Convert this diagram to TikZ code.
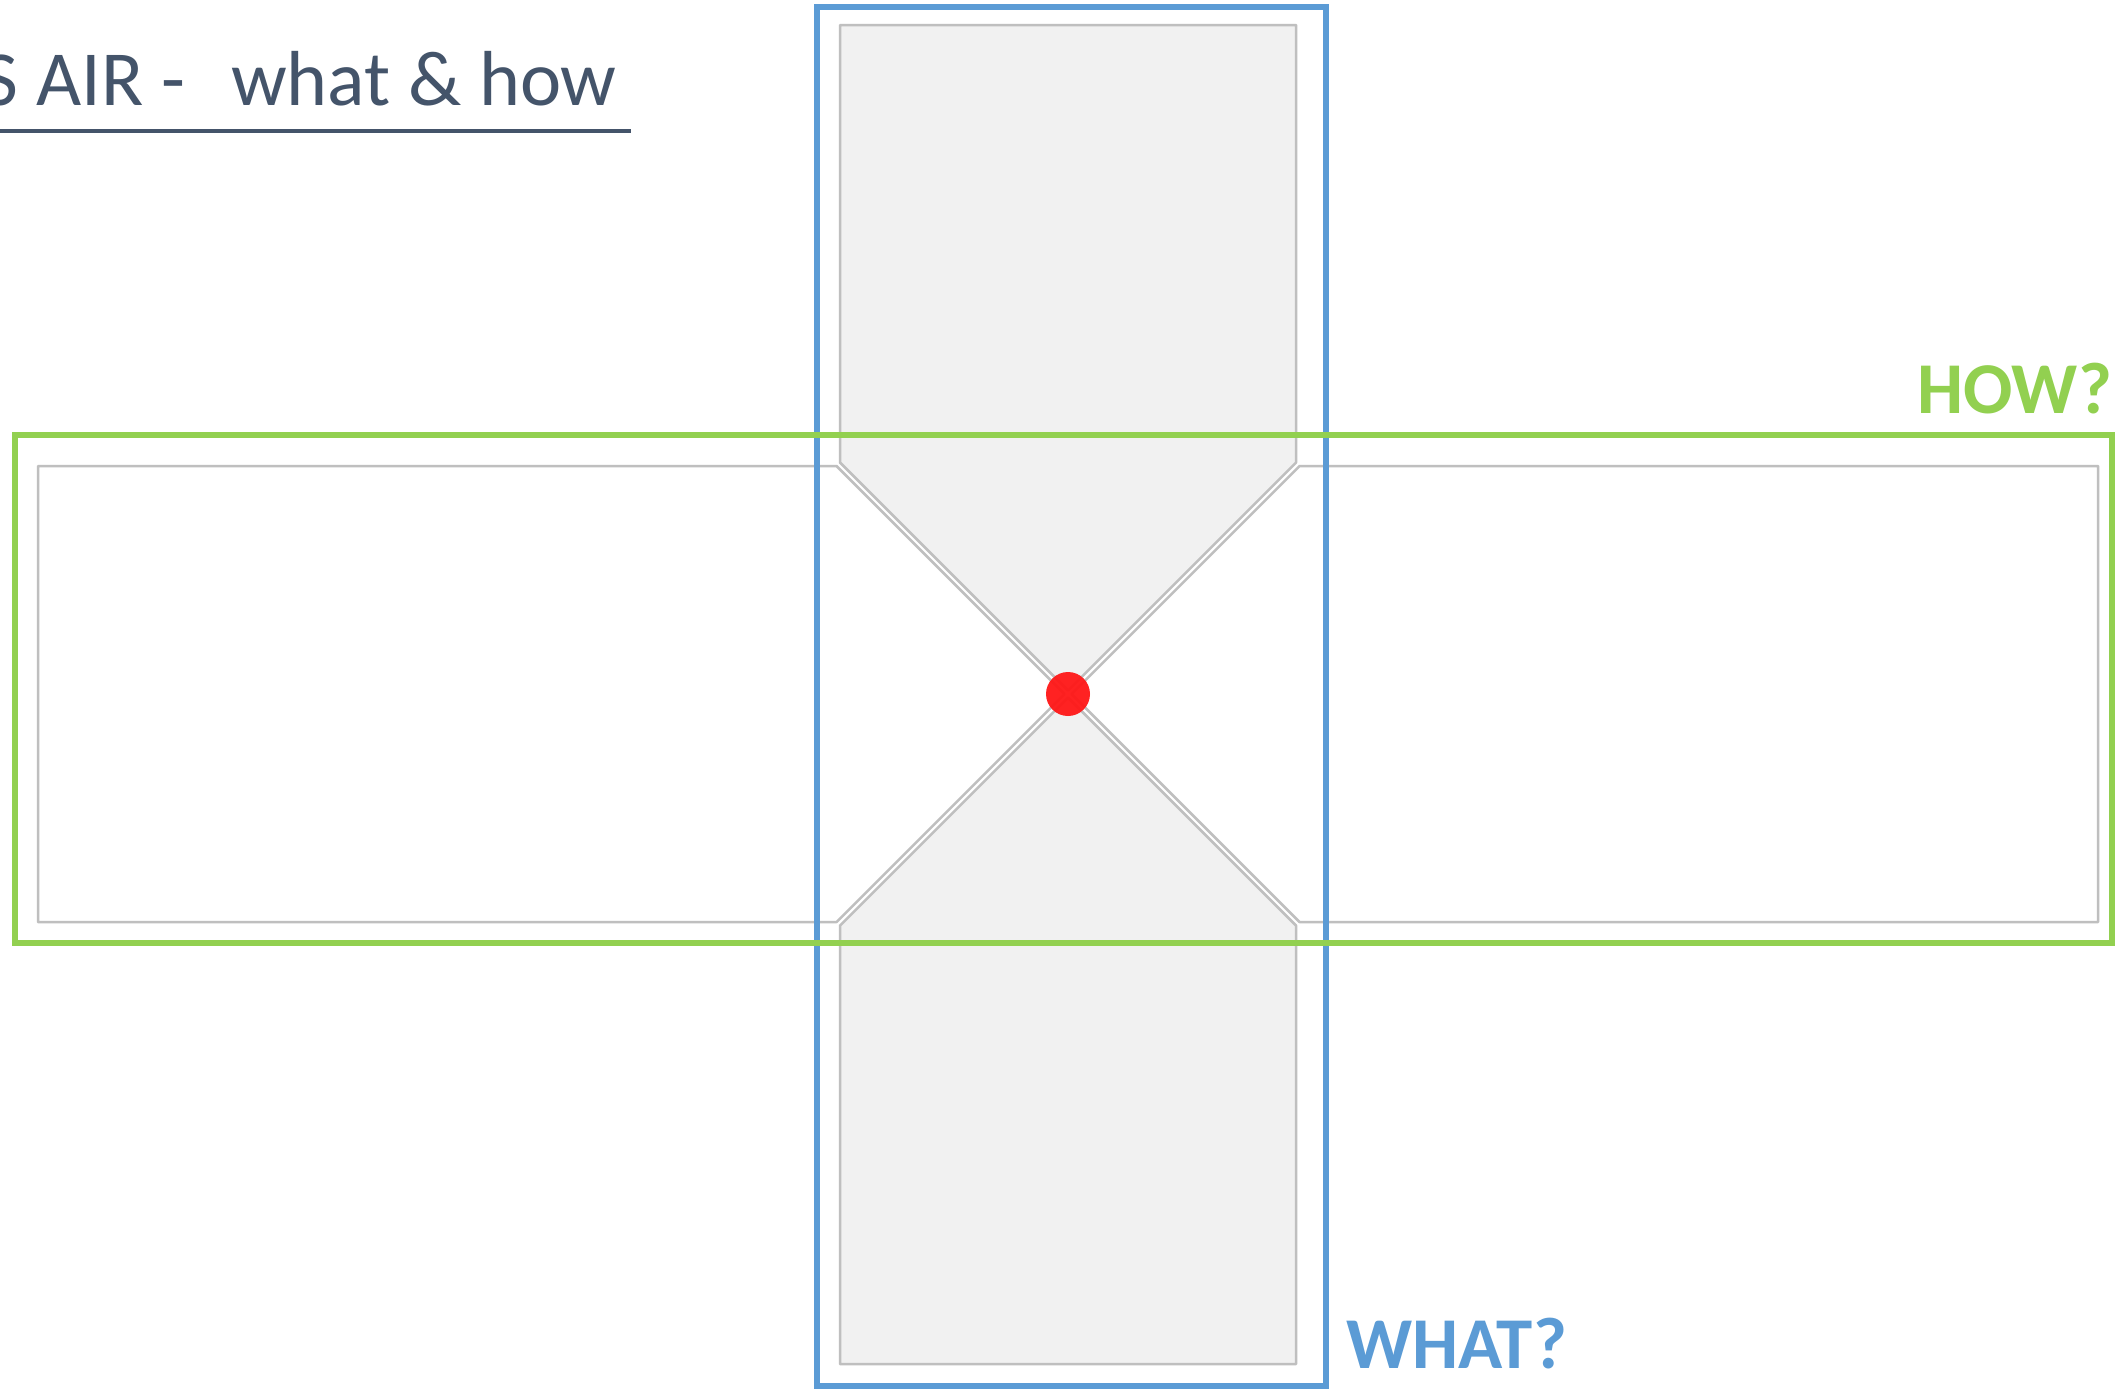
\documentclass[tikz,border=0pt]{standalone}
\usepackage{fontspec}
\setmainfont{Carlito}
\definecolor{titlec}{HTML}{44546A}
\definecolor{whatblue}{HTML}{5B9BD5}
\definecolor{howgreen}{HTML}{92D050}
\definecolor{edgegray}{HTML}{BFBFBF}
\definecolor{panefill}{HTML}{F1F1F1}
\definecolor{dotred}{HTML}{FF1717}
\begin{document}
\begin{tikzpicture}[x=1pt,y=-1pt,
  vpane/.style={draw=edgegray,line width=2.5pt,fill=panefill,line join=bevel},
  hpane/.style={draw=edgegray,line width=2.5pt,fill=white,line join=bevel},
  frame/.style={line width=6pt},
  titletext/.style={text=titlec,inner sep=0pt,font=\fontsize{78}{90}\selectfont},
  qlabel/.style={inner sep=0pt,font=\bfseries\fontsize{73}{80}\selectfont}]
\useasboundingbox (0,0) rectangle (2118,1390);
\clip (0,0) rectangle (2118,1390);
\fill[white] (0,0) rectangle (2118,1390);
\coordinate (C) at (1068,694);
% panes
\draw[hpane] (38,466) -- (836.5,466) -- (1064.5,694) -- (836.5,922) -- (38,922) -- cycle;
\draw[hpane] (2098,466) -- (1299.5,466) -- (1071.5,694) -- (1299.5,922) -- (2098,922) -- cycle;
\draw[vpane] (840,25) -- (1296,25) -- (1296,462.5) -- (1068,690.5) -- (840,462.5) -- cycle;
\draw[vpane] (840,1364) -- (1296,1364) -- (1296,925.5) -- (1068,697.5) -- (840,925.5) -- cycle;
% frames
\draw[frame,whatblue] (817,6.5) rectangle (1326,1386);
\draw[frame,howgreen] (15,435) rectangle (2112,943);
% centre dot
\fill[dotred,opacity=0.95] (C) circle (22);
% labels
\node[qlabel,text=howgreen,anchor=base east] (how) at (2113,413) {HOW?};
\node[qlabel,text=whatblue,anchor=base west] (what) at (1346,1368) {WHAT?};
% title
\node[titletext,anchor=base west] (t1) at (-17.4,105) {S AIR -};
\node[titletext,anchor=base west] (t2) at (231,105) {what \& how};
\draw[titlec,line width=4pt] (0,131) -- (631,131);
\end{tikzpicture}
\end{document}
